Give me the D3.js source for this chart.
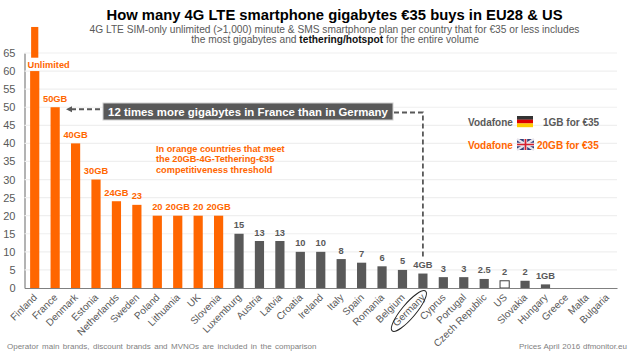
<!DOCTYPE html>
<html>
<head>
<meta charset="utf-8">
<script src="https://cdn.jsdelivr.net/npm/d3@7"></script>
<style>
  body { margin: 0; background: white; }
  svg { display: block; font-family: "Liberation Sans", Arial, sans-serif; }
</style>
</head>
<body>
<svg id="chart" width="630" height="364"></svg>
<script>
const countries = ["Finland", "France", "Denmark", "Estonia", "Netherlands", "Sweden", "Poland", "Lithuania", "UK", "Slovenia",
    "Luxemburg", "Austria", "Latvia", "Croatia", "Ireland", "Italy", "Spain", "Romania", "Belgium", "Germany",
    "Cyprus", "Portugal", "Czech Republic", "US", "Slovakia", "Hungary", "Greece", "Malta", "Bulgaria"];
const gigabytes = [60, 50, 40, 30, 24, 23, 20, 20, 20, 20, 15, 13, 13, 10, 10, 8, 7, 6, 5, 4, 3, 3, 2.5, 2, 2, 1, 0, 0, 0];
const barLabels = ["", "50GB", "40GB", "30GB", "24GB", "23", "20", "20GB", "20", "20GB", "15", "13", "13", "10", "10", "8", "7", "6", "5", "4GB", "3", "3", "2.5", "2", "2", "1GB", "", "", ""];
const orangeCount = 10;
const yTicks = d3.range(0, 70, 5);

const orange = "#ff6600";
const grey = "#595959";

const width = 630;
const height = 364;
const margin = { top: 53, right: 13, bottom: 76, left: 24.5 };

const svg = d3.select("#chart");

const x = d3.scaleBand()
    .domain(countries)
    .range([margin.left, width - margin.right])
    .paddingInner(0.55)
    .paddingOuter(0.275);

const y = d3.scaleLinear()
    .domain([0, 65])
    .range([height - margin.bottom, margin.top]);

// gridlines + left axis
const yAxis = svg.append("g")
    .attr("transform", `translate(${margin.left},0)`)
    .call(d3.axisLeft(y).tickValues(yTicks).tickSize(0).tickPadding(9));
yAxis.select(".domain").attr("stroke", "#808080").attr("stroke-width", 1.2);
yAxis.selectAll("text").attr("font-size", "11px").attr("fill", grey).attr("font-family", "inherit");

svg.append("g").selectAll("line")
    .data(yTicks.filter(d => d > 0))
    .join("line")
    .attr("x1", margin.left)
    .attr("x2", width - margin.right)
    .attr("y1", d => y(d))
    .attr("y2", d => y(d))
    .attr("stroke", "#efefef")
    .attr("stroke-width", 1.2);

// bars
svg.append("g").selectAll("rect")
    .data(countries)
    .join("rect")
    .attr("x", d => x(d))
    .attr("y", (d, i) => y(gigabytes[i]))
    .attr("width", x.bandwidth())
    .attr("height", (d, i) => y(0) - y(gigabytes[i]))
    .attr("fill", (d, i) => d === "US" ? "white" : i < orangeCount ? orange : grey)
    .attr("stroke", d => d === "US" ? "#404040" : "none")
    .attr("stroke-width", 1);

// Finland runs off the scale, narrower stub above the Unlimited label
svg.append("rect")
    .attr("x", x("Finland") + 1)
    .attr("y", y(72.2))
    .attr("width", x.bandwidth() - 2)
    .attr("height", y(63.7) - y(72.2))
    .attr("fill", orange);

svg.append("text")
    .attr("x", x("Finland") + 18.5)
    .attr("y", y(60) - 3.5)
    .attr("text-anchor", "middle")
    .attr("font-size", "9.3px")
    .attr("font-weight", "bold")
    .attr("fill", orange)
    .text("Unlimited");

svg.append("g").selectAll("text")
    .data(countries)
    .join("text")
    .attr("x", d => x(d) + x.bandwidth() / 2)
    .attr("y", (d, i) => y(gigabytes[i]) - 5.5)
    .attr("text-anchor", "middle")
    .attr("font-size", "9.3px")
    .attr("font-weight", "bold")
    .attr("fill", (d, i) => i < orangeCount ? orange : grey)
    .text((d, i) => barLabels[i]);

// x axis with rotated country names
const xAxis = svg.append("g")
    .attr("transform", `translate(0,${y(0)})`)
    .call(d3.axisBottom(x).tickSize(0).tickPadding(0));
xAxis.select(".domain").attr("stroke", "#808080").attr("stroke-width", 1.2);
xAxis.selectAll("text")
    .attr("font-size", "10px")
    .attr("font-family", "inherit")
    .attr("fill", grey)
    .attr("text-anchor", "end")
    .attr("dy", 0)
    .attr("y", 0)
    .attr("transform", "translate(3,10) rotate(-45)");

// Germany circled
const germanyX = x("Germany") + x.bandwidth() / 2;
svg.append("ellipse")
    .attr("cx", germanyX - 14)
    .attr("cy", 311)
    .attr("rx", 26)
    .attr("ry", 7)
    .attr("transform", `rotate(-50 ${germanyX - 14} 311)`)
    .attr("fill", "none")
    .attr("stroke", "#222")
    .attr("stroke-width", 1);

// titles
svg.append("text")
    .attr("x", 334.5)
    .attr("y", 19.5)
    .attr("text-anchor", "middle")
    .attr("font-size", "14.8px")
    .attr("font-weight", "bold")
    .attr("fill", "black")
    .text("How many 4G LTE smartphone gigabytes €35 buys in EU28 & US");

svg.append("text")
    .attr("x", 334.5)
    .attr("y", 32.5)
    .attr("text-anchor", "middle")
    .attr("font-size", "10.2px")
    .attr("fill", grey)
    .text("4G LTE SIM-only unlimited (>1,000) minute & SMS smartphone plan per country that for €35 or less includes");

const sub2 = svg.append("text")
    .attr("x", 335)
    .attr("y", 43)
    .attr("text-anchor", "middle")
    .attr("font-size", "10.2px")
    .attr("fill", grey);
sub2.append("tspan").text("the most gigabytes and ");
sub2.append("tspan").attr("font-weight", "bold").attr("fill", "#111").text("tethering/hotspot");
sub2.append("tspan").text("  for the entire volume");

// callout connectors
const dash = svg.append("g")
    .attr("fill", "none")
    .attr("stroke", grey)
    .attr("stroke-width", 1.8)
    .attr("stroke-dasharray", "5,3");
dash.append("line")
    .attr("x1", 71).attr("x2", 103)
    .attr("y1", y(50) + 2).attr("y2", y(50) + 2);
dash.append("path")
    .attr("d", `M394,112.5 H${germanyX} V257`);

svg.append("path")
    .attr("d", `M66,${y(50) + 2} l6,-3 v6 z`)
    .attr("fill", grey);

svg.append("rect")
    .attr("x", 103)
    .attr("y", 103)
    .attr("width", 290)
    .attr("height", 17)
    .attr("fill", grey)
    .attr("stroke", "#d0d0d0")
    .attr("stroke-width", 1);

svg.append("text")
    .attr("x", 248)
    .attr("y", 115.5)
    .attr("text-anchor", "middle")
    .attr("font-size", "11.4px")
    .attr("font-weight", "bold")
    .attr("fill", "white")
    .text("12 times more gigabytes in France than in Germany");

// threshold note
svg.append("g").selectAll("text")
    .data(["In orange countries that meet", "the 20GB-4G-Tethering-€35", "competitiveness threshold"])
    .join("text")
    .attr("x", 156)
    .attr("y", (d, i) => 152 + i * 10.4)
    .attr("font-size", "9.2px")
    .attr("font-weight", "bold")
    .attr("fill", orange)
    .text(d => d);

// Vodafone comparison
const vodafone = svg.append("g").attr("font-size", "10px").attr("font-weight", "bold");
vodafone.append("text").attr("x", 468).attr("y", 126).attr("fill", grey).text("Vodafone");
vodafone.append("text").attr("x", 543).attr("y", 126).attr("fill", grey).text("1GB for €35");
vodafone.append("text").attr("x", 468).attr("y", 149).attr("fill", orange).text("Vodafone");
vodafone.append("text").attr("x", 537).attr("y", 149).attr("fill", orange).text("20GB for €35");

// German flag
svg.append("g").selectAll("rect")
    .data(["#333333", "#dd0000", "#ffcc00"])
    .join("rect")
    .attr("x", 517)
    .attr("y", (d, i) => 116 + i * 3.7)
    .attr("width", 16)
    .attr("height", 3.8)
    .attr("fill", d => d);

// UK flag
const uk = svg.append("g").attr("transform", "translate(517,139)");
uk.append("rect").attr("width", 17).attr("height", 11).attr("fill", "#33407a");
uk.append("path").attr("d", "M0,0 L17,11 M17,0 L0,11").attr("stroke", "#e8e4ea").attr("stroke-width", 2.2);
uk.append("path").attr("d", "M8.5,0 V11 M0,5.5 H17").attr("stroke", "#e8e4ea").attr("stroke-width", 3.4);
uk.append("path").attr("d", "M8.5,0 V11 M0,5.5 H17").attr("stroke", "#d8202f").attr("stroke-width", 1.7);

// footers
svg.append("text")
    .attr("x", 7)
    .attr("y", 349)
    .attr("font-size", "8px")
    .attr("word-spacing", "1.25px")
    .attr("fill", "#7f7f7f")
    .text("Operator main brands, discount brands and MVNOs are included in the comparison");

svg.append("text")
    .attr("x", 627)
    .attr("y", 349)
    .attr("text-anchor", "end")
    .attr("font-size", "8px")
    .attr("word-spacing", "0.6px")
    .attr("fill", "#7f7f7f")
    .text("Prices April 2016 dfmonitor.eu");
</script>
</body>
</html>
